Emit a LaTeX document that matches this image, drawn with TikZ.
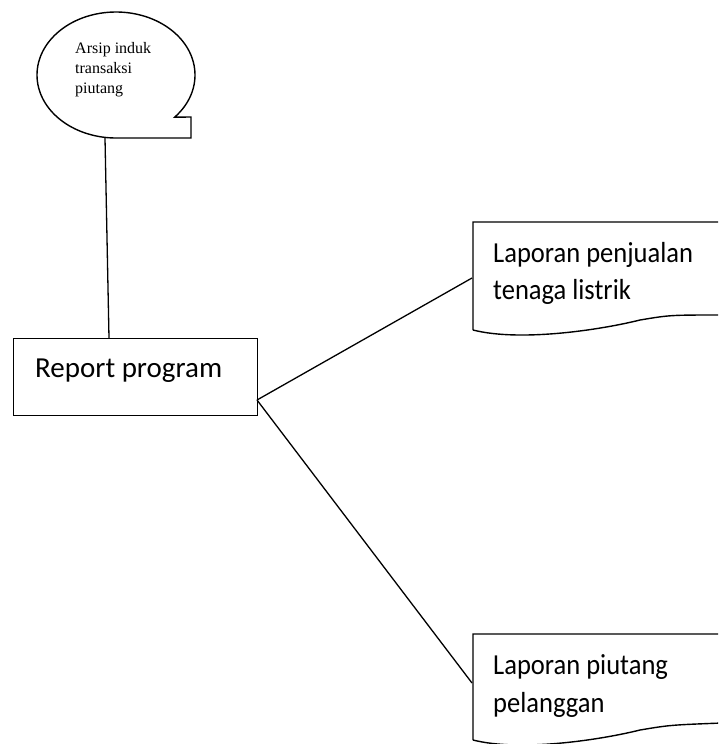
\documentclass[tikz,border=0pt]{standalone}
\usepackage{fontspec}
\setmainfont{Carlito}
\newfontfamily\timesfont{Liberation Serif}
\begin{document}
\begin{tikzpicture}[x=1pt,y=1pt,
  shapeline/.style={draw=black, line width=1.4pt},
  conn/.style={draw=black, line width=1.3pt},
  bigtext/.style={font=\fontsize{29}{38}\selectfont, anchor=base west, inner sep=0pt},
  doctext/.style={bigtext, xscale=0.915},
  smalltext/.style={font=\timesfont\fontsize{16}{20}\selectfont, anchor=base west, inner sep=0pt}]
\clip (0,0) rectangle (718,-744);
% storage symbol
\draw[shapeline] ([shift={(116,-75)}]-42:79 and 63) arc[start angle=-42, end angle=270, x radius=79, y radius=63] -- (191,-138) -- (191,-117) -- cycle;
\node[smalltext] (arsip1) at (75,-53) {Arsip induk};
\node[smalltext] (arsip2) at (75,-73) {transaksi};
\node[smalltext] (arsip3) at (75,-93) {piutang};
\coordinate (arsipbot) at (105,-138);
% report program
\node[shapeline, minimum width=244pt, minimum height=77pt, anchor=north west, inner sep=0pt] (report) at (13,-338) {};
\node[bigtext] (reporttext) at (35,-377) {Report program};
\coordinate (reporttop) at (109,-338);
\coordinate (reportout) at (257,-400);
% document 1
\draw[shapeline] (473,-330) -- (473,-222) -- (722,-222) -- (722,-315) .. controls (670,-315) .. (640,-320) .. controls (600,-330) and (520,-342) .. (473,-330);
\node[doctext] (doc1a) at (493,-262) {Laporan penjualan};
\node[doctext] (doc1b) at (493,-299) {tenaga listrik};
\coordinate (doc1in) at (472,-278);
% document 2
\draw[shapeline] (473,-740) -- (473,-634) -- (722,-634) -- (722,-723) .. controls (670,-725) .. (640,-730) .. controls (600,-740) and (520,-752) .. (473,-740);
\node[doctext] (doc2a) at (493,-674) {Laporan piutang};
\node[doctext] (doc2b) at (493,-712) {pelanggan};
\coordinate (doc2in) at (472,-683);
% connectors
\draw[conn] (arsipbot) -- (reporttop);
\draw[conn] (reportout) -- (doc1in);
\draw[conn] (reportout) -- (doc2in);
\end{tikzpicture}
\end{document}
